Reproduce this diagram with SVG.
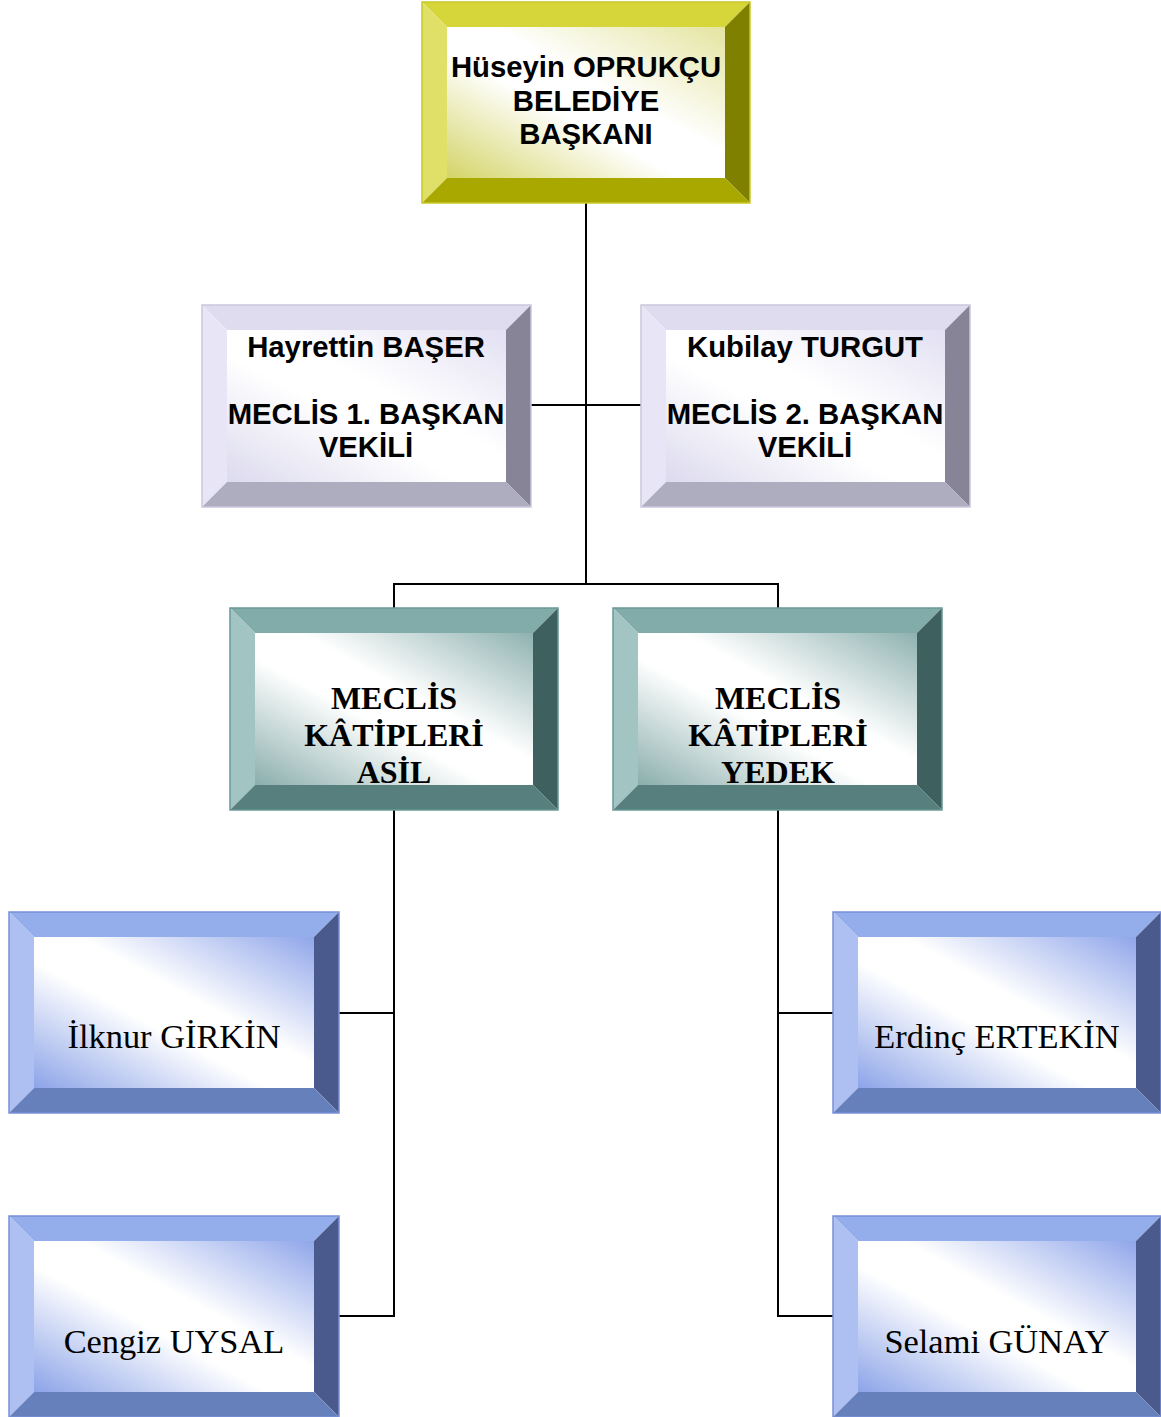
<svg xmlns="http://www.w3.org/2000/svg" width="1161" height="1417" viewBox="0 0 1161 1417">
<style>
.sans{font-family:"Liberation Sans",Arial,sans-serif;font-weight:bold;font-size:29.3px;fill:#000;text-anchor:middle}
.serifb{font-family:"Liberation Serif","Times New Roman",serif;font-weight:bold;font-size:32px;fill:#000;text-anchor:middle}
.serif{font-family:"Liberation Serif","Times New Roman",serif;font-size:34.4px;fill:#000;text-anchor:middle}
.conn{stroke:#000;stroke-width:2;fill:none}
.y .t{fill:#d6d63a}.y .l{fill:#e0e068}.y .r{fill:#808000}.y .b{fill:#a8a800}.y .o{stroke:#c8c828}
.v .t{fill:#dedcee}.v .l{fill:#e8e6f6}.v .r{fill:#868496}.v .b{fill:#aeacbf}.v .o{stroke:#cac8dc}
.g .t{fill:#82acaa}.g .l{fill:#a2c4c3}.g .r{fill:#3e605f}.g .b{fill:#567f7e}.g .o{stroke:#6a9896}
.bl .t{fill:#94aeec}.bl .l{fill:#aec0f2}.bl .r{fill:#4a5a8c}.bl .b{fill:#6680bc}.bl .o{stroke:#7890d8}
.o{fill:none;stroke-width:1.5}
</style>
<defs>
<linearGradient id="gy" x1="1" y1="0" x2="0" y2="1"><stop offset="0" stop-color="#e4e4a0"/><stop offset="0.42" stop-color="#ffffff"/><stop offset="0.58" stop-color="#ffffff"/><stop offset="1" stop-color="#d4d468"/></linearGradient>
<linearGradient id="gv" x1="1" y1="0" x2="0" y2="1"><stop offset="0" stop-color="#e2e0f2"/><stop offset="0.42" stop-color="#ffffff"/><stop offset="0.58" stop-color="#ffffff"/><stop offset="1" stop-color="#dcdaee"/></linearGradient>
<linearGradient id="gg" x1="1" y1="0" x2="0" y2="1"><stop offset="0" stop-color="#8eb2b0"/><stop offset="0.42" stop-color="#ffffff"/><stop offset="0.58" stop-color="#ffffff"/><stop offset="1" stop-color="#8aaeac"/></linearGradient>
<linearGradient id="gb" x1="1" y1="0" x2="0" y2="1"><stop offset="0" stop-color="#90a6ea"/><stop offset="0.42" stop-color="#ffffff"/><stop offset="0.58" stop-color="#ffffff"/><stop offset="1" stop-color="#8ca4e8"/></linearGradient>
</defs>

<g id="connectors">
<line class="conn" x1="586" y1="203" x2="586" y2="584"/>
<line class="conn" x1="531" y1="405" x2="641" y2="405"/>
<polyline class="conn" points="394,608 394,584 778,584 778,608"/>
<polyline class="conn" points="394,810 394,1316 339,1316"/>
<line class="conn" x1="339" y1="1013" x2="394" y2="1013"/>
<polyline class="conn" points="778,810 778,1316 833,1316"/>
<line class="conn" x1="778" y1="1013" x2="833" y2="1013"/>
</g>

<g id="baskan" class="y">
<polygon class="t" points="422,2 750,2 725,27 447,27"/>
<polygon class="l" points="422,2 447,27 447,178 422,203"/>
<polygon class="r" points="750,2 750,203 725,178 725,27"/>
<polygon class="b" points="422,203 447,178 725,178 750,203"/>
<rect x="447" y="27" width="278" height="151" fill="url(#gy)"/>
<rect class="o" x="422" y="2" width="328" height="201"/>
<text class="sans" x="586" y="77">Hüseyin OPRUKÇU</text>
<text class="sans" x="586" y="110.5">BELEDİYE</text>
<text class="sans" x="586" y="144">BAŞKANI</text>
</g>

<g id="vekil1" class="v">
<polygon class="t" points="202,305 531,305 506,330 227,330"/>
<polygon class="l" points="202,305 227,330 227,482 202,507"/>
<polygon class="r" points="531,305 531,507 506,482 506,330"/>
<polygon class="b" points="202,507 227,482 506,482 531,507"/>
<rect x="227" y="330" width="279" height="152" fill="url(#gv)"/>
<rect class="o" x="202" y="305" width="329" height="202"/>
<text class="sans" x="366" y="357">Hayrettin BAŞER</text>
<text class="sans" x="366" y="424">MECLİS 1. BAŞKAN</text>
<text class="sans" x="366" y="457">VEKİLİ</text>
</g>

<g id="vekil2" class="v">
<polygon class="t" points="641,305 970,305 945,330 666,330"/>
<polygon class="l" points="641,305 666,330 666,482 641,507"/>
<polygon class="r" points="970,305 970,507 945,482 945,330"/>
<polygon class="b" points="641,507 666,482 945,482 970,507"/>
<rect x="666" y="330" width="279" height="152" fill="url(#gv)"/>
<rect class="o" x="641" y="305" width="329" height="202"/>
<text class="sans" x="805" y="357">Kubilay TURGUT</text>
<text class="sans" x="805" y="424">MECLİS 2. BAŞKAN</text>
<text class="sans" x="805" y="457">VEKİLİ</text>
</g>

<g id="katip-asil" class="g">
<polygon class="t" points="230,608 558,608 533,633 255,633"/>
<polygon class="l" points="230,608 255,633 255,785 230,810"/>
<polygon class="r" points="558,608 558,810 533,785 533,633"/>
<polygon class="b" points="230,810 255,785 533,785 558,810"/>
<rect x="255" y="633" width="278" height="152" fill="url(#gg)"/>
<rect class="o" x="230" y="608" width="328" height="202"/>
<text class="serifb" x="394" y="709">MECLİS</text>
<text class="serifb" x="394" y="746">KÂTİPLERİ</text>
<text class="serifb" x="394" y="783">ASİL</text>
</g>

<g id="katip-yedek" class="g">
<polygon class="t" points="613,608 942,608 917,633 638,633"/>
<polygon class="l" points="613,608 638,633 638,785 613,810"/>
<polygon class="r" points="942,608 942,810 917,785 917,633"/>
<polygon class="b" points="613,810 638,785 917,785 942,810"/>
<rect x="638" y="633" width="279" height="152" fill="url(#gg)"/>
<rect class="o" x="613" y="608" width="329" height="202"/>
<text class="serifb" x="778" y="709">MECLİS</text>
<text class="serifb" x="778" y="746">KÂTİPLERİ</text>
<text class="serifb" x="778" y="783">YEDEK</text>
</g>

<g id="ilknur" class="bl">
<polygon class="t" points="9,912 339,912 314,937 34,937"/>
<polygon class="l" points="9,912 34,937 34,1088 9,1113"/>
<polygon class="r" points="339,912 339,1113 314,1088 314,937"/>
<polygon class="b" points="9,1113 34,1088 314,1088 339,1113"/>
<rect x="34" y="937" width="280" height="151" fill="url(#gb)"/>
<rect class="o" x="9" y="912" width="330" height="201"/>
<text class="serif" x="174" y="1048">İlknur GİRKİN</text>
</g>

<g id="cengiz" class="bl">
<polygon class="t" points="9,1216 339,1216 314,1241 34,1241"/>
<polygon class="l" points="9,1216 34,1241 34,1392 9,1417"/>
<polygon class="r" points="339,1216 339,1417 314,1392 314,1241"/>
<polygon class="b" points="9,1417 34,1392 314,1392 339,1417"/>
<rect x="34" y="1241" width="280" height="151" fill="url(#gb)"/>
<rect class="o" x="9" y="1216" width="330" height="201"/>
<text class="serif" x="174" y="1353">Cengiz UYSAL</text>
</g>

<g id="erdinc" class="bl">
<polygon class="t" points="833,912 1161,912 1136,937 858,937"/>
<polygon class="l" points="833,912 858,937 858,1088 833,1113"/>
<polygon class="r" points="1161,912 1161,1113 1136,1088 1136,937"/>
<polygon class="b" points="833,1113 858,1088 1136,1088 1161,1113"/>
<rect x="858" y="937" width="278" height="151" fill="url(#gb)"/>
<rect class="o" x="833" y="912" width="328" height="201"/>
<text class="serif" x="997" y="1048">Erdinç ERTEKİN</text>
</g>

<g id="selami" class="bl">
<polygon class="t" points="833,1216 1161,1216 1136,1241 858,1241"/>
<polygon class="l" points="833,1216 858,1241 858,1392 833,1417"/>
<polygon class="r" points="1161,1216 1161,1417 1136,1392 1136,1241"/>
<polygon class="b" points="833,1417 858,1392 1136,1392 1161,1417"/>
<rect x="858" y="1241" width="278" height="151" fill="url(#gb)"/>
<rect class="o" x="833" y="1216" width="328" height="201"/>
<text class="serif" x="997" y="1353">Selami GÜNAY</text>
</g>
</svg>
